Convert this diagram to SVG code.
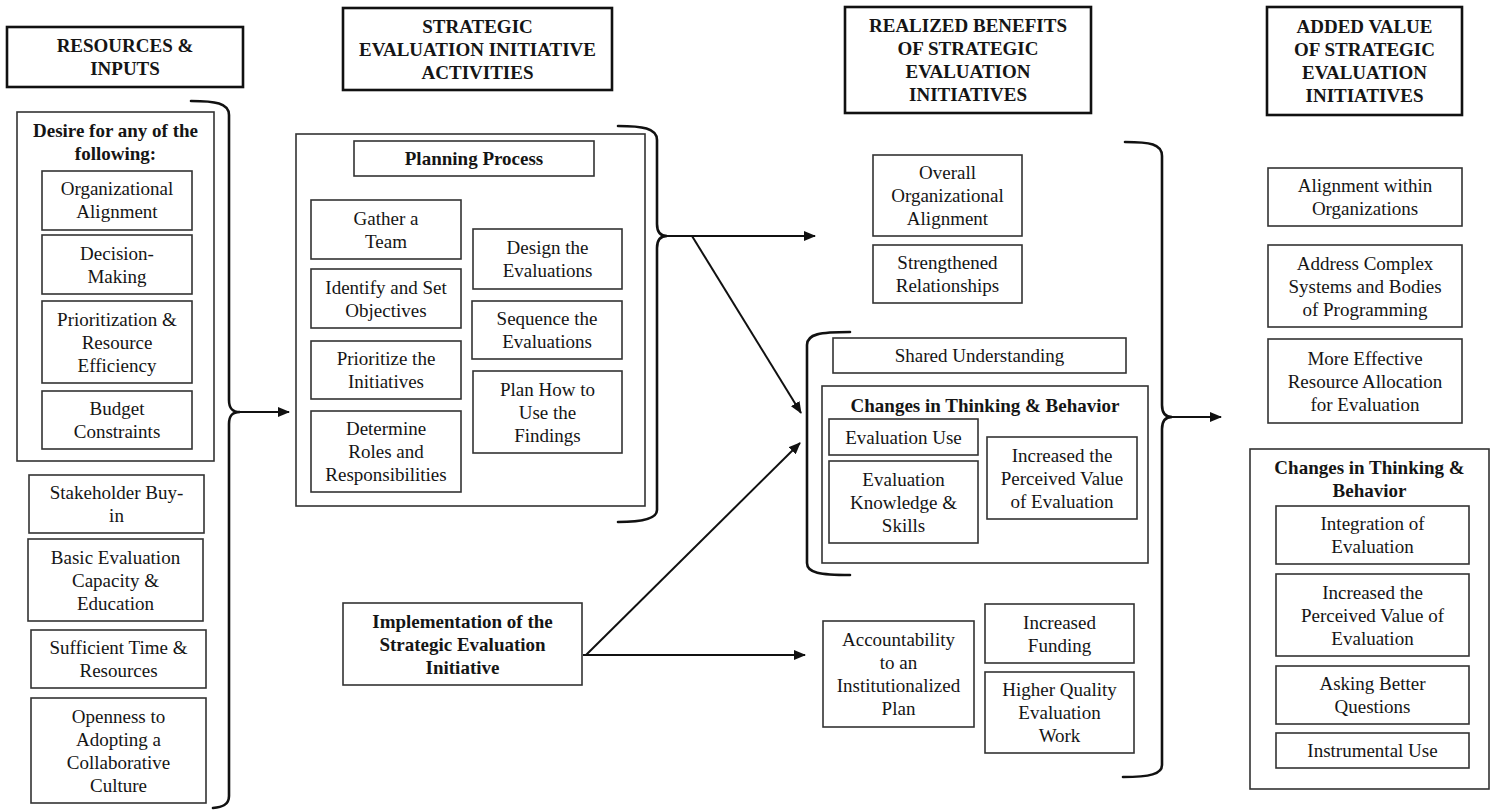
<svg xmlns="http://www.w3.org/2000/svg" width="1496" height="812" viewBox="0 0 1496 812">
  <style>
    .hdr { fill: #fff; stroke: #111; stroke-width: 2.6; }
    .box { fill: #fff; stroke: #333; stroke-width: 1.6; }
    text { font-family: "Liberation Serif", Tinos, "Times New Roman", Times, "DejaVu Serif", serif; font-size: 19px; fill: #151515; text-anchor: middle; }
    .b { font-weight: bold; }
    .brace { fill: none; stroke: #111; stroke-width: 2.6; stroke-linecap: round; }
    .link { fill: none; stroke: #111; stroke-width: 2; }
  </style>
  <defs>
    <marker id="arrow" markerUnits="userSpaceOnUse" markerWidth="12" markerHeight="10" refX="11" refY="5" orient="auto">
      <path d="M0,0 L12,5 L0,10 Z" fill="#111"/>
    </marker>
  </defs>
  <rect width="1496" height="812" fill="#fff"/>

  <g font-family="Liberation Serif, Tinos, Times New Roman, serif">
  <!-- column headers -->
  <g id="hdr-resources">
    <rect class="hdr" x="7" y="27" width="236" height="60"/>
    <text class="b" x="125" y="52">RESOURCES &amp;</text>
    <text class="b" x="125" y="75">INPUTS</text>
  </g>
  <g id="hdr-activities">
    <rect class="hdr" x="343" y="8" width="269" height="82"/>
    <text class="b" x="477.5" y="32.5">STRATEGIC</text>
    <text class="b" x="477.5" y="55.5">EVALUATION INITIATIVE</text>
    <text class="b" x="477.5" y="78.5">ACTIVITIES</text>
  </g>
  <g id="hdr-benefits">
    <rect class="hdr" x="845" y="7" width="246" height="106"/>
    <text class="b" x="968" y="32">REALIZED BENEFITS</text>
    <text class="b" x="968" y="55">OF STRATEGIC</text>
    <text class="b" x="968" y="78">EVALUATION</text>
    <text class="b" x="968" y="101">INITIATIVES</text>
  </g>
  <g id="hdr-value">
    <rect class="hdr" x="1267" y="7" width="195" height="108"/>
    <text class="b" x="1364.5" y="33">ADDED VALUE</text>
    <text class="b" x="1364.5" y="56">OF STRATEGIC</text>
    <text class="b" x="1364.5" y="79">EVALUATION</text>
    <text class="b" x="1364.5" y="102">INITIATIVES</text>
  </g>

  <!-- resources & inputs -->
  <g id="desire">
    <rect class="box" x="17" y="112" width="197" height="349"/>
    <text class="b" x="115.5" y="137">Desire for any of the</text>
    <text class="b" x="115.5" y="160">following:</text>
  </g>
  <g id="org-alignment">
    <rect class="box" x="42" y="171" width="150" height="59"/>
    <text x="117" y="195">Organizational</text>
    <text x="117" y="218">Alignment</text>
  </g>
  <g id="decision-making">
    <rect class="box" x="42" y="235" width="150" height="59"/>
    <text x="117" y="259.5">Decision-</text>
    <text x="117" y="282.5">Making</text>
  </g>
  <g id="prioritization">
    <rect class="box" x="42" y="301" width="150" height="82"/>
    <text x="117" y="325.5">Prioritization &amp;</text>
    <text x="117" y="348.5">Resource</text>
    <text x="117" y="371.5">Efficiency</text>
  </g>
  <g id="budget">
    <rect class="box" x="42" y="391" width="150" height="58"/>
    <text x="117" y="415">Budget</text>
    <text x="117" y="438">Constraints</text>
  </g>
  <g id="stakeholder">
    <rect class="box" x="29" y="475" width="175" height="58"/>
    <text x="116.5" y="499">Stakeholder Buy-</text>
    <text x="116.5" y="522">in</text>
  </g>
  <g id="basic-capacity">
    <rect class="box" x="28" y="539" width="175" height="82"/>
    <text x="115.5" y="563.5">Basic Evaluation</text>
    <text x="115.5" y="586.5">Capacity &amp;</text>
    <text x="115.5" y="609.5">Education</text>
  </g>
  <g id="time-resources">
    <rect class="box" x="31" y="630" width="175" height="58"/>
    <text x="118.5" y="654">Sufficient Time &amp;</text>
    <text x="118.5" y="677">Resources</text>
  </g>
  <g id="openness">
    <rect class="box" x="31" y="698" width="175" height="105"/>
    <text x="118.5" y="722.5">Openness to</text>
    <text x="118.5" y="745.5">Adopting a</text>
    <text x="118.5" y="768.5">Collaborative</text>
    <text x="118.5" y="791.5">Culture</text>
  </g>

  <!-- initiative activities -->
  <g id="planning">
    <rect class="box" x="296" y="134" width="349" height="372"/>
  </g>
  <g id="planning-process">
    <rect class="box" x="354" y="141" width="240" height="35"/>
    <text class="b" x="474" y="164.5">Planning Process</text>
  </g>
  <g id="gather-team">
    <rect class="box" x="311" y="200" width="150" height="59"/>
    <text x="386" y="224.5">Gather a</text>
    <text x="386" y="247.5">Team</text>
  </g>
  <g id="objectives">
    <rect class="box" x="311" y="269" width="150" height="59"/>
    <text x="386" y="293.5">Identify and Set</text>
    <text x="386" y="316.5">Objectives</text>
  </g>
  <g id="prioritize">
    <rect class="box" x="311" y="341" width="150" height="58"/>
    <text x="386" y="365">Prioritize the</text>
    <text x="386" y="388">Initiatives</text>
  </g>
  <g id="roles">
    <rect class="box" x="311" y="411" width="150" height="81"/>
    <text x="386" y="435">Determine</text>
    <text x="386" y="458">Roles and</text>
    <text x="386" y="481">Responsibilities</text>
  </g>
  <g id="design">
    <rect class="box" x="473" y="229" width="149" height="60"/>
    <text x="547.5" y="254">Design the</text>
    <text x="547.5" y="277">Evaluations</text>
  </g>
  <g id="sequence">
    <rect class="box" x="472" y="301" width="150" height="58"/>
    <text x="547" y="325">Sequence the</text>
    <text x="547" y="348">Evaluations</text>
  </g>
  <g id="plan-findings">
    <rect class="box" x="473" y="371" width="149" height="82"/>
    <text x="547.5" y="395.5">Plan How to</text>
    <text x="547.5" y="418.5">Use the</text>
    <text x="547.5" y="441.5">Findings</text>
  </g>
  <g id="implementation">
    <rect class="box" x="343" y="603" width="239" height="82"/>
    <text class="b" x="462.5" y="628">Implementation of the</text>
    <text class="b" x="462.5" y="651">Strategic Evaluation</text>
    <text class="b" x="462.5" y="674">Initiative</text>
  </g>

  <!-- realized benefits -->
  <g id="overall-alignment">
    <rect class="box" x="873" y="155" width="149" height="81"/>
    <text x="947.5" y="179">Overall</text>
    <text x="947.5" y="202">Organizational</text>
    <text x="947.5" y="225">Alignment</text>
  </g>
  <g id="relationships">
    <rect class="box" x="873" y="245" width="149" height="58"/>
    <text x="947.5" y="269">Strengthened</text>
    <text x="947.5" y="292">Relationships</text>
  </g>
  <g id="shared-understanding">
    <rect class="box" x="833" y="338" width="293" height="35"/>
    <text x="979.5" y="362">Shared Understanding</text>
  </g>
  <g id="changes-benefits">
    <rect class="box" x="822" y="386" width="326" height="177"/>
    <text class="b" x="985" y="411.5">Changes in Thinking &amp; Behavior</text>
  </g>
  <g id="evaluation-use">
    <rect class="box" x="829" y="419" width="149" height="36"/>
    <text x="903.5" y="443.5">Evaluation Use</text>
  </g>
  <g id="knowledge-skills">
    <rect class="box" x="829" y="461" width="149" height="82"/>
    <text x="903.5" y="485.5">Evaluation</text>
    <text x="903.5" y="508.5">Knowledge &amp;</text>
    <text x="903.5" y="531.5">Skills</text>
  </g>
  <g id="perceived-value-benefit">
    <rect class="box" x="987" y="437" width="150" height="82"/>
    <text x="1062" y="461.5">Increased the</text>
    <text x="1062" y="484.5">Perceived Value</text>
    <text x="1062" y="507.5">of Evaluation</text>
  </g>
  <g id="accountability">
    <rect class="box" x="823" y="621" width="151" height="106"/>
    <text x="898.5" y="646">Accountability</text>
    <text x="898.5" y="669">to an</text>
    <text x="898.5" y="692">Institutionalized</text>
    <text x="898.5" y="715">Plan</text>
  </g>
  <g id="funding">
    <rect class="box" x="985" y="604" width="149" height="59"/>
    <text x="1059.5" y="628.5">Increased</text>
    <text x="1059.5" y="651.5">Funding</text>
  </g>
  <g id="quality-work">
    <rect class="box" x="985" y="672" width="149" height="81"/>
    <text x="1059.5" y="696">Higher Quality</text>
    <text x="1059.5" y="719">Evaluation</text>
    <text x="1059.5" y="742">Work</text>
  </g>

  <!-- added value -->
  <g id="alignment-within">
    <rect class="box" x="1268" y="168" width="194" height="58"/>
    <text x="1365" y="192">Alignment within</text>
    <text x="1365" y="215">Organizations</text>
  </g>
  <g id="complex-systems">
    <rect class="box" x="1268" y="245" width="194" height="82"/>
    <text x="1365" y="269.5">Address Complex</text>
    <text x="1365" y="292.5">Systems and Bodies</text>
    <text x="1365" y="315.5">of Programming</text>
  </g>
  <g id="resource-allocation">
    <rect class="box" x="1268" y="339" width="194" height="84"/>
    <text x="1365" y="364.5">More Effective</text>
    <text x="1365" y="387.5">Resource Allocation</text>
    <text x="1365" y="410.5">for Evaluation</text>
  </g>
  <g id="changes-value">
    <rect class="box" x="1250" y="449" width="239" height="340"/>
    <text class="b" x="1369.5" y="474">Changes in Thinking &amp;</text>
    <text class="b" x="1369.5" y="497">Behavior</text>
  </g>
  <g id="integration">
    <rect class="box" x="1276" y="506" width="193" height="58"/>
    <text x="1372.5" y="530">Integration of</text>
    <text x="1372.5" y="553">Evaluation</text>
  </g>
  <g id="perceived-value-added">
    <rect class="box" x="1276" y="574" width="193" height="82"/>
    <text x="1372.5" y="598.5">Increased the</text>
    <text x="1372.5" y="621.5">Perceived Value of</text>
    <text x="1372.5" y="644.5">Evaluation</text>
  </g>
  <g id="better-questions">
    <rect class="box" x="1276" y="666" width="193" height="58"/>
    <text x="1372.5" y="690">Asking Better</text>
    <text x="1372.5" y="713">Questions</text>
  </g>
  <g id="instrumental-use">
    <rect class="box" x="1276" y="733" width="193" height="35"/>
    <text x="1372.5" y="757">Instrumental Use</text>
  </g>
  </g>

  <!-- braces and arrows -->
  <g id="connectors">
    <path class="brace" d="M191,101 C215,101 229,103 229,115 L229,400 C229,408 232,412 240,412 C232,412 229,416 229,424 L229,796 C229,805 222,807 213,808"/>
    <line class="link" x1="240" y1="412" x2="289" y2="412" marker-end="url(#arrow)"/>

    <path class="brace" d="M618,126 C642,126 657,128 657,140 L657,224 C657,231 660,236 667,236 C660,236 657,241 657,248 L657,510 C657,519 642,522 618,522"/>
    <line class="link" x1="667" y1="236" x2="815" y2="236" marker-end="url(#arrow)"/>
    <line class="link" x1="692" y1="236" x2="801" y2="413" marker-end="url(#arrow)"/>

    <line class="link" x1="583" y1="655" x2="805" y2="655" marker-end="url(#arrow)"/>
    <line class="link" x1="586" y1="655" x2="800" y2="443" marker-end="url(#arrow)"/>

    <path class="brace" d="M850,332 C820,332 807,334 807,345 L807,563 C807,573 820,575 850,575"/>

    <path class="brace" d="M1125,142 C1150,142 1162,144 1162,156 L1162,405 C1162,412 1165,417 1172,417 C1165,417 1162,422 1162,429 L1162,765 C1162,774 1150,777 1123,777"/>
    <line class="link" x1="1172" y1="417" x2="1221" y2="417" marker-end="url(#arrow)"/>
  </g>
</svg>
